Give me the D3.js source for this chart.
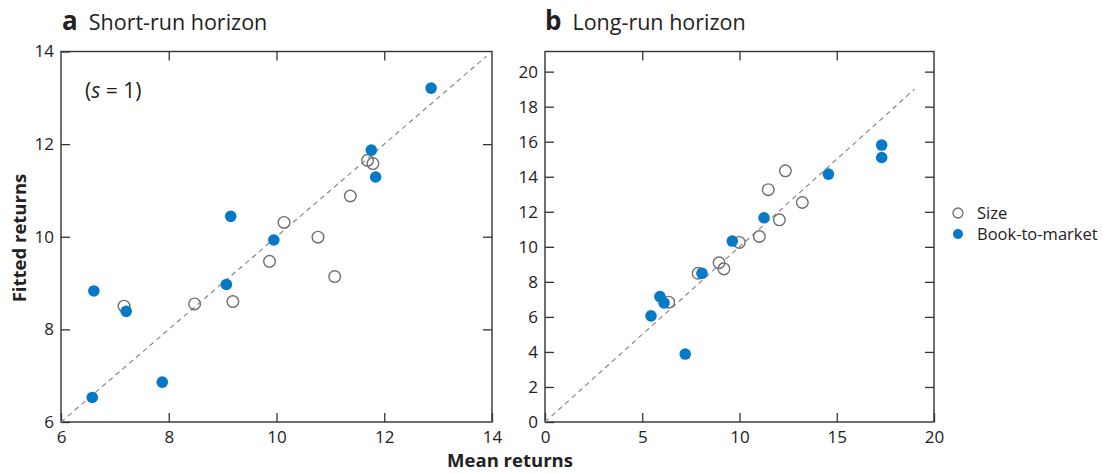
<!DOCTYPE html>
<html>
<head>
<meta charset="utf-8">
<script src="https://cdn.jsdelivr.net/npm/d3@7"></script>
<style>
  html, body { margin: 0; padding: 0; background: #fff; }
  svg { display: block; font-family: "Open Sans", "DejaVu Sans", sans-serif; }
</style>
</head>
<body>
<svg id="chart" width="1103" height="474"></svg>
<script>
// Short-run horizon (s = 1): mean vs fitted returns
const shortSizeMean   = [11.69, 11.79, 11.37, 10.14, 10.77, 9.87, 11.08, 7.17, 8.48, 9.19];
const shortSizeFitted = [11.65, 11.58, 10.88, 10.31, 9.99, 9.47, 9.14, 8.50, 8.55, 8.60];
const shortBmMean     = [12.87, 11.76, 11.84, 9.15, 9.95, 6.61, 7.21, 9.07, 7.88, 6.58];
const shortBmFitted   = [13.21, 11.87, 11.29, 10.44, 9.93, 8.83, 8.39, 8.97, 6.86, 6.53];

// Long-run horizon
const longSizeMean    = [12.36, 11.48, 13.23, 12.05, 11.02, 9.99, 8.95, 9.20, 7.87, 6.36];
const longSizeFitted  = [14.34, 13.26, 12.53, 11.54, 10.59, 10.25, 9.09, 8.74, 8.49, 6.84];
const longBmMean      = [17.31, 17.31, 14.57, 11.26, 9.63, 8.07, 5.91, 6.12, 5.45, 7.21];
const longBmFitted    = [15.81, 15.10, 14.15, 11.66, 10.33, 8.49, 7.16, 6.80, 6.06, 3.88];

// Axis ticks
const shortTicksX = [6, 8, 10, 12, 14];
const shortTicksY = [6, 8, 10, 12, 14];
const longTicksX  = [0, 5, 10, 15, 20];
const longTicksY  = [0, 2, 4, 6, 8, 10, 12, 14, 16, 18, 20];

// 45-degree reference lines
const shortDiag = [6, 13.9];
const longDiag  = [0, 19];

const legendLabels = ["Size", "Book-to-market"];

const BLUE = "#0479c6";
const RING = "#6e6e6e";
const FRAME = "#333";

const svg = d3.select("#chart");

function zip(xs, ys) { return xs.map((x, i) => [x, ys[i]]); }

function panel(opts) {
  const { left, right, top, bottom, xDomain, yDomain, xTicks, yTicks, diag,
          size, bm, letter, title, titleX } = opts;
  const x = d3.scaleLinear().domain(xDomain).range([left, right]);
  const y = d3.scaleLinear().domain(yDomain).range([bottom, top]);
  const g = svg.append("g");

  const styleAxis = sel => {
    sel.select(".domain").remove();
    sel.selectAll(".tick line").attr("stroke", FRAME).attr("stroke-width", 1.3);
    sel.selectAll(".tick text").attr("fill", "#222").style("font-size", "17px")
      .style("font-family", "'Open Sans', sans-serif");
  };

  // inward ticks on all four sides
  g.append("g").attr("transform", `translate(0,${bottom})`)
    .call(d3.axisBottom(x).tickValues(xTicks).tickSize(-9).tickPadding(9).tickFormat(d3.format("d")))
    .call(styleAxis);
  g.append("g").attr("transform", `translate(0,${top})`)
    .call(d3.axisTop(x).tickValues(xTicks.slice(1, -1)).tickSize(-9).tickFormat(""))
    .call(styleAxis);
  g.append("g").attr("transform", `translate(${left},0)`)
    .call(d3.axisLeft(y).tickValues(yTicks).tickSize(-9).tickPadding(7).tickFormat(d3.format("d")))
    .call(styleAxis);
  g.append("g").attr("transform", `translate(${right},0)`)
    .call(d3.axisRight(y).tickValues(yTicks.filter(v => y(v) > top + 2 && y(v) < bottom - 2)).tickSize(-9).tickFormat(""))
    .call(styleAxis);

  // frame
  g.append("rect").attr("x", left).attr("y", top)
    .attr("width", right - left).attr("height", bottom - top)
    .attr("fill", "none").attr("stroke", FRAME).attr("stroke-width", 1.4);

  // 45-degree line
  g.append("line")
    .attr("x1", x(diag[0])).attr("y1", y(diag[0]))
    .attr("x2", x(diag[1])).attr("y2", y(diag[1]))
    .attr("stroke", "#8a8a8a").attr("stroke-width", 1.2)
    .attr("stroke-dasharray", "5,4");

  // size portfolios: open rings
  g.append("g").selectAll("circle").data(size).join("circle")
    .attr("cx", d => x(d[0])).attr("cy", d => y(d[1])).attr("r", 5.8)
    .attr("fill", "none").attr("stroke", RING).attr("stroke-width", 1.4);

  // book-to-market portfolios: filled dots
  g.append("g").selectAll("circle").data(bm).join("circle")
    .attr("cx", d => x(d[0])).attr("cy", d => y(d[1])).attr("r", 5.8)
    .attr("fill", BLUE);

  // panel title
  const t = g.append("text").attr("x", titleX).attr("y", 30).attr("fill", "#222");
  t.append("tspan").text(letter).style("font-weight", "bold").style("font-size", "26px");
  t.append("tspan").attr("dx", 11).text(title).style("font-size", "21.5px");

  return { x, y, g };
}

const a = panel({
  left: 61, right: 492, top: 51.5, bottom: 422,
  xDomain: [6, 14], yDomain: [6, 14],
  xTicks: shortTicksX, yTicks: shortTicksY, diag: shortDiag,
  size: zip(shortSizeMean, shortSizeFitted), bm: zip(shortBmMean, shortBmFitted),
  letter: "a", title: "Short-run horizon", titleX: 62
});

// horizon annotation
const ann = a.g.append("text").attr("x", 85).attr("y", 98).attr("fill", "#222")
  .style("font-size", "21px");
ann.append("tspan").text("(");
ann.append("tspan").text("s").style("font-style", "italic");
ann.append("tspan").text(" = 1)");

panel({
  left: 545, right: 934, top: 51.5, bottom: 422,
  xDomain: [0, 20], yDomain: [0, 21.15],
  xTicks: longTicksX, yTicks: longTicksY, diag: longDiag,
  size: zip(longSizeMean, longSizeFitted), bm: zip(longBmMean, longBmFitted),
  letter: "b", title: "Long-run horizon", titleX: 545
});

// shared axis titles
svg.append("text").attr("x", 510).attr("y", 467).attr("text-anchor", "middle")
  .attr("fill", "#222").style("font-weight", "bold").style("font-size", "18.5px")
  .text("Mean returns");
svg.append("text").attr("transform", "translate(26,238) rotate(-90)")
  .attr("text-anchor", "middle").attr("fill", "#222")
  .style("font-weight", "bold").style("font-size", "18.5px")
  .text("Fitted returns");

// legend
const leg = svg.append("g");
legendLabels.forEach((lab, i) => {
  const cy = 213 + i * 21;
  const c = leg.append("circle").attr("cx", 958).attr("cy", cy).attr("r", 5);
  if (i === 0) c.attr("fill", "none").attr("stroke", RING).attr("stroke-width", 1.3);
  else c.attr("fill", BLUE);
  leg.append("text").attr("x", 977).attr("y", cy + 5.5).attr("fill", "#222")
    .style("font-size", "16.5px").text(lab);
});
</script>
</body>
</html>
